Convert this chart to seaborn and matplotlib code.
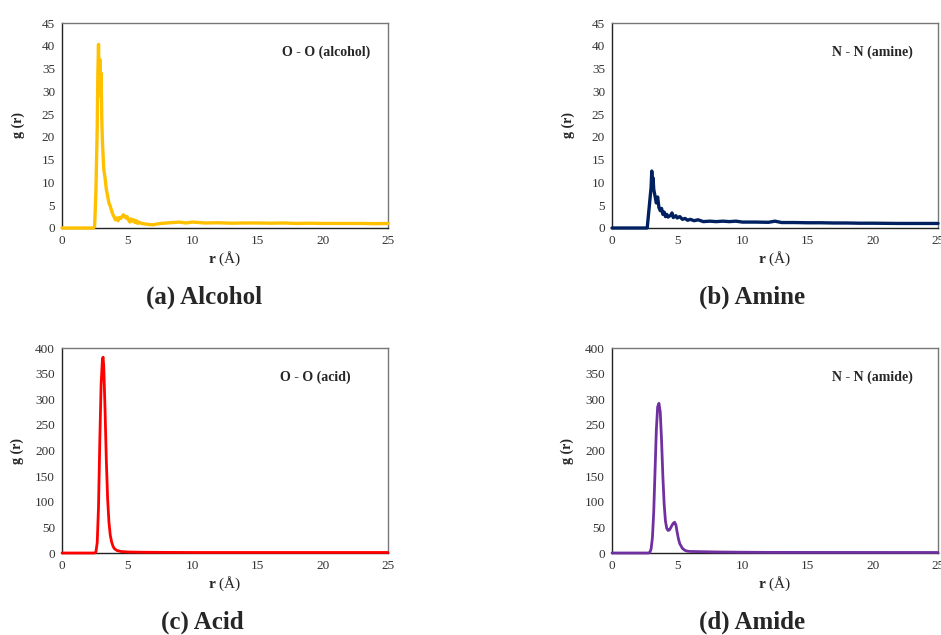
import matplotlib
matplotlib.use("Agg")
import matplotlib.pyplot as plt
import seaborn as sns
import pandas as pd

# ---------------- data ----------------
alcohol_r = [0, 2.4, 2.5, 2.6, 2.7, 2.75, 2.8, 2.85, 2.9, 2.95, 3.0, 3.05, 3.1, 3.2, 3.3, 3.4,
             3.5, 3.6, 3.7, 3.8, 3.9, 4.0, 4.1, 4.2, 4.3, 4.4, 4.5, 4.6, 4.7, 4.8, 4.9, 5.0,
             5.1, 5.2, 5.3, 5.4, 5.5, 5.6, 5.7, 5.8, 5.9, 6.0, 6.3, 6.6, 7.0, 7.3, 7.6, 8.0,
             8.5, 9.0, 9.5, 10, 10.5, 11, 12, 13, 14, 15, 16, 17, 18, 19, 20, 21, 22, 23, 24, 25]
alcohol_g = [0, 0, 0.3, 8, 22, 34, 40.3, 30, 37, 29, 34, 24, 19, 13, 11, 8.5,
             7, 5.5, 4.8, 3.8, 3.0, 2.4, 1.8, 2.2, 1.6, 2.3, 2.1, 2.5, 2.9, 2.6, 2.2, 2.5,
             1.8, 1.3, 2.0, 1.5, 1.8, 1.2, 1.6, 1.0, 1.3, 1.1, 0.9, 0.8, 0.7, 0.9, 1.0, 1.1,
             1.2, 1.3, 1.1, 1.3, 1.2, 1.1, 1.15, 1.05, 1.1, 1.1, 1.05, 1.1, 1.0, 1.05, 1.0, 1.0, 1.0, 1.0, 0.95, 1.0]

amine_r = [0, 2.7, 2.8, 2.9, 3.0, 3.05, 3.1, 3.15, 3.2, 3.3, 3.4, 3.5, 3.6, 3.7, 3.8, 3.9,
           4.0, 4.1, 4.2, 4.3, 4.5, 4.6, 4.7, 4.9, 5.0, 5.2, 5.4, 5.6, 5.8, 6.0, 6.3, 6.6,
           7.0, 7.5, 8.0, 8.5, 9.0, 9.5, 10, 11, 12, 12.5, 13, 14, 15, 16, 17, 18, 19, 20, 22, 24, 25]
amine_g = [0, 0, 3, 6, 9, 12.5, 9, 11, 8.5, 7, 5.5, 6.8, 4.5, 3.8, 4.3, 3.0,
           3.5, 2.5, 3.0, 2.4, 2.8, 3.3, 2.3, 2.7, 2.2, 2.5, 1.9, 2.1, 1.7, 1.9, 1.6, 1.8,
           1.4, 1.5, 1.4, 1.5, 1.4, 1.5, 1.3, 1.3, 1.25, 1.5, 1.2, 1.2, 1.15, 1.15, 1.1, 1.1, 1.05, 1.05, 1.0, 1.0, 1.0]

acid_r = [0, 2.5, 2.6, 2.7, 2.8, 2.9, 3.0, 3.1, 3.15, 3.2, 3.3, 3.4, 3.5, 3.6, 3.7, 3.8,
          3.9, 4.0, 4.2, 4.5, 5.0, 6.0, 8.0, 10, 25]
acid_g = [0, 0, 2, 20, 90, 220, 330, 378, 382, 365, 280, 180, 105, 60, 35, 22,
          14, 9, 5, 3, 2, 1.5, 1.2, 1.0, 1.0]

amide_r = [0, 2.8, 2.9, 3.0, 3.1, 3.2, 3.3, 3.4, 3.5, 3.6, 3.7, 3.8, 3.9, 4.0, 4.1, 4.2,
           4.3, 4.4, 4.5, 4.6, 4.7, 4.8, 4.9, 5.0, 5.1, 5.2, 5.4, 5.6, 5.8, 6.0, 7.0, 8.0,
           10, 12, 25]
amide_g = [0, 0, 1, 8, 30, 80, 160, 240, 285, 292, 275, 220, 150, 95, 62, 48,
           44, 45, 49, 54, 58, 60, 55, 40, 27, 18, 9, 5, 3.5, 3, 2.5, 2,
           1.5, 1.2, 1.0]

panels = [
    dict(r=alcohol_r, g=alcohol_g, color="#FFC000", label="O - O (alcohol)",
         caption="(a) Alcohol", ymax=45, ystep=5, lw=2.4),
    dict(r=amine_r, g=amine_g, color="#002060", label="N - N (amine)",
         caption="(b) Amine", ymax=45, ystep=5, lw=2.4),
    dict(r=acid_r, g=acid_g, color="#FF0000", label="O - O (acid)",
         caption="(c) Acid", ymax=400, ystep=50, lw=2.0),
    dict(r=amide_r, g=amide_g, color="#7030A0", label="N - N (amide)",
         caption="(d) Amide", ymax=400, ystep=50, lw=2.0),
]
xticks = [0, 5, 10, 15, 20, 25]

# ---------------- style ----------------
sns.set_style("white")
plt.rcParams['font.family'] = ['Liberation Serif', 'DejaVu Serif']
plt.rcParams['mathtext.fontset'] = 'custom'
plt.rcParams['mathtext.rm'] = 'Liberation Serif'
plt.rcParams['mathtext.bf'] = 'Liberation Serif:bold'

W, H = 941, 635
fig = plt.figure(figsize=(W / 100, H / 100), dpi=100)

# axes boxes in pixels: (left, top, right, bottom)
boxes = [(62, 23, 388, 228), (612, 23, 938, 228),
         (62, 348, 388, 553), (612, 348, 938, 553)]
label_pos = [(0.945, 0.855), (0.923, 0.855), (0.886, 0.855), (0.923, 0.855)]
caption_pos = [(204, 297), (752, 297), (202, 622), (752, 622)]

for p, (l, t, r, b), (lx, ly), (cx, cy) in zip(panels, boxes, label_pos, caption_pos):
    ax = fig.add_axes([l / W, 1 - b / H, (r - l) / W, (b - t) / H])
    df = pd.DataFrame({"r": p["r"], "g": p["g"]})
    sns.lineplot(data=df, x="r", y="g", ax=ax, color=p["color"], linewidth=p["lw"],
                 zorder=3, clip_on=False)
    ax.set_xlim(0, 25)
    ax.set_ylim(0, p["ymax"])
    ax.set_xticks(xticks)
    ax.set_yticks(list(range(0, p["ymax"] + 1, p["ystep"])))
    ax.tick_params(axis="both", labelsize=9.5, colors="#333333")
    ax.tick_params(axis="y", length=3, width=0.8, color="#808080", direction="out", pad=2)
    ax.tick_params(axis="x", length=0, pad=5)
    for side in ["left", "bottom"]:
        ax.spines[side].set_color("#222222")
        ax.spines[side].set_linewidth(1.0)
    for side in ["top", "right"]:
        ax.spines[side].set_color("#777777")
        ax.spines[side].set_linewidth(1.0)
    ax.set_xlabel(r"$\mathbf{r}$ (Å)", fontsize=11, labelpad=2)
    ax.set_ylabel("g (r)", fontsize=10, fontweight="bold", labelpad=12 if p["ymax"] == 45 else 8)
    ax.text(lx, ly, p["label"], transform=ax.transAxes, ha="right", va="center",
            fontsize=10, fontweight="bold")
    fig.text(cx / W, 1 - cy / H, p["caption"], ha="center", va="center",
             fontsize=18, fontweight="bold")

fig.savefig("out.png", dpi=100, facecolor="white")
